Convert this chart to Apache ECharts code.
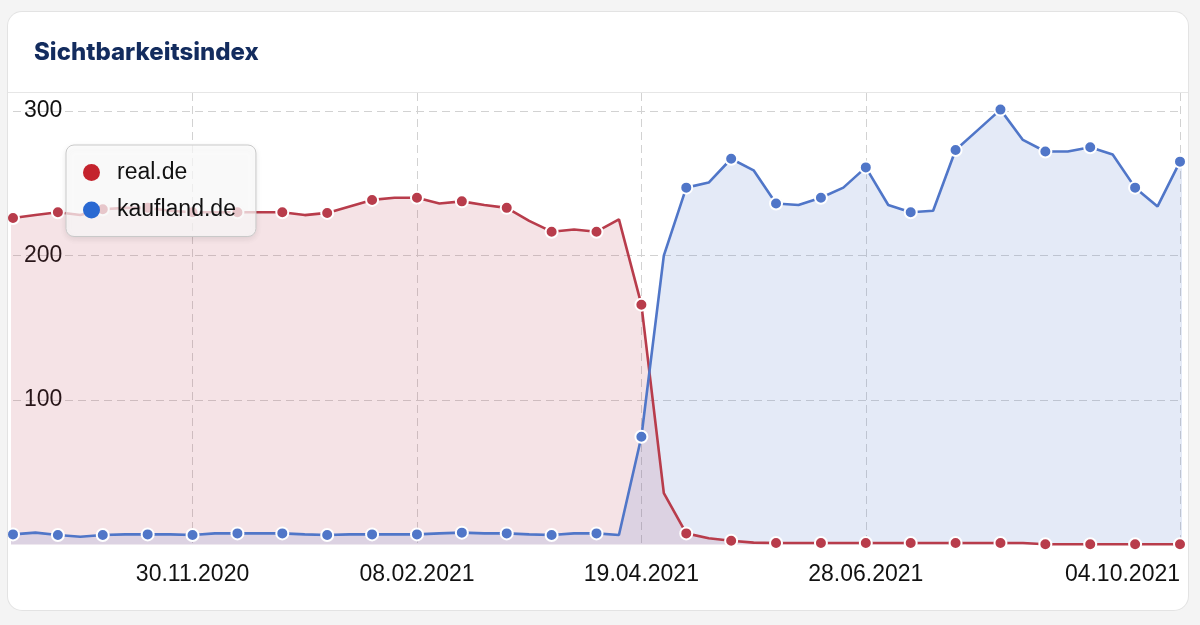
<!DOCTYPE html>
<html><head><meta charset="utf-8">
<script src="https://cdn.jsdelivr.net/npm/echarts@6/dist/echarts.min.js"></script>
<style>
html,body{margin:0;padding:0;background:#f4f4f4;width:1200px;height:625px;overflow:hidden;}
#card{position:absolute;left:8px;top:12px;width:1180px;height:598px;background:#fff;border-radius:14px;overflow:hidden;box-shadow:0 0 0 1px #e3e3e3;}
#sep{position:absolute;left:0;top:80px;width:100%;height:1px;background:#e6e6e6;}
#chart{position:absolute;left:-8px;top:-12px;width:1200px;height:625px;}
</style></head><body>
<div id="card"><div id="sep"></div><div id="chart"></div></div>
<script>
// weekly dates (first and last lie just outside the visible range)
const weeks = [
 '2020-09-28','2020-10-05','2020-10-12','2020-10-19','2020-10-26','2020-11-02','2020-11-09','2020-11-16','2020-11-23','2020-11-30',
 '2020-12-07','2020-12-14','2020-12-21','2020-12-28','2021-01-04','2021-01-11','2021-01-18','2021-01-25','2021-02-01','2021-02-08',
 '2021-02-15','2021-02-22','2021-03-01','2021-03-08','2021-03-15','2021-03-22','2021-03-29','2021-04-05','2021-04-12','2021-04-19',
 '2021-04-26','2021-05-03','2021-05-10','2021-05-17','2021-05-24','2021-05-31','2021-06-07','2021-06-14','2021-06-21','2021-06-28',
 '2021-07-05','2021-07-12','2021-07-19','2021-07-26','2021-08-02','2021-08-09','2021-08-16','2021-08-23','2021-08-30','2021-09-06',
 '2021-09-13','2021-09-20','2021-09-27','2021-10-04','2021-10-11'
];
const realDe = [
 223, 226, 228, 230, 228, 232, 233, 233, 231, 230,
 230, 230, 230, 230, 228, 229.5, 234, 238.5, 240, 240,
 236, 237.5, 235, 233, 224, 216.5, 218, 216.5, 225, 166,
 35.5, 7.7, 4.3, 2.6, 1.3, 1.0, 1.0, 1.0, 1.0, 1.0,
 1.0, 1.0, 1.0, 1.0, 1.0, 1.0, 1.0, 0.2, 0.2, 0.2,
 0.2, 0.2, 0.2, 0.2, 0.2
];
const kauflandDe = [
 7, 7.0, 8.2, 6.6, 5.4, 6.6, 7.0, 7.0, 7.0, 6.6,
 7.7, 7.7, 7.7, 7.7, 7.0, 6.6, 7.0, 7.0, 7.0, 7.0,
 7.7, 8.2, 7.7, 7.7, 7.0, 6.6, 7.7, 7.7, 6.6, 74.6,
 200, 247, 250.5, 267, 259, 236, 235, 240, 247, 261,
 235, 230, 231, 273, 287, 301, 280, 272, 272, 275,
 270, 247, 234, 265, 269
];
const xTickDates = ['2020-11-30','2021-02-08','2021-04-19','2021-06-28','2021-10-04'];
const xMinDate = '2020-10-05', xMaxDate = '2021-10-04';
const yTicks = [100, 200, 300];
const title = 'Sichtbarkeitsindex';
const names = ['real.de', 'kaufland.de'];

const tickIdx = xTickDates.map(d => weeks.indexOf(d));
function fmtDate(s) { const p = s.split('-'); return p[2] + '.' + p[1] + '.' + p[0]; }
function build(values) {
  return values.map((v, i) => ({
    value: [i, v],
    symbol: (i % 2 === 1) ? 'circle' : 'none'
  }));
}
const chart = echarts.init(document.getElementById('chart'), null, {renderer: 'canvas'});
const FONT = '"Liberation Sans", Arial, sans-serif';
chart.setOption({
  animation: false,
  backgroundColor: 'transparent',
  title: {
    text: title, left: 34, top: 41, padding: 0,
    textStyle: {fontFamily: 'Inter', fontWeight: 800, fontSize: 24, color: '#132c5e'}
  },
  legend: {
    orient: 'vertical', left: 66, top: 145,
    padding: [16, 20, 15, 17], itemGap: 14.5,
    icon: 'circle', itemWidth: 17, itemHeight: 17,
    backgroundColor: 'rgba(255,255,255,0.72)',
    borderColor: '#c9c9c9', borderWidth: 1, borderRadius: 8,
    shadowColor: 'rgba(0,0,0,0.12)', shadowBlur: 6, shadowOffsetY: 2,
    textStyle: {fontFamily: FONT, fontSize: 23, color: '#111', padding: [0, 0, 0, 12]},
    data: [
      {name: names[0], itemStyle: {color: '#c4232d', borderWidth: 0}},
      {name: names[1], itemStyle: {color: '#2a69d2', borderWidth: 0}}
    ]
  },
  grid: {left: 13, right: 20, top: 93, bottom: 80.5, containLabel: false},
  xAxis: {
    type: 'value', min: weeks.indexOf(xMinDate), max: weeks.indexOf(xMaxDate),
    axisLine: {show: false},
    axisTick: {show: false, customValues: tickIdx},
    axisLabel: {
      customValues: tickIdx, alignMaxLabel: 'right',
      fontFamily: FONT, fontSize: 23, color: '#111', margin: 19,
      formatter: v => (weeks[v] ? fmtDate(weeks[v]) : '')
    },
    splitLine: {show: true, lineStyle: {color: '#d2d2d2', type: [8, 5], width: 1}}
  },
  yAxis: {
    type: 'value', min: 0, max: 312.5, interval: 100,
    axisLine: {show: false}, axisTick: {show: false},
    axisLabel: {
      inside: true, margin: 11, fontFamily: FONT, fontSize: 23, color: '#111',
      padding: [3, 0, 0, 0],
      showMinLabel: false, showMaxLabel: false,
      formatter: v => (yTicks.indexOf(v) >= 0 ? String(v) : '')
    },
    splitLine: {show: true, showMinLine: false, showMaxLine: false,
      lineStyle: {color: '#d2d2d2', type: [8, 5], width: 1}}
  },
  series: [
    {
      name: names[0], type: 'line', clip: false, data: build(realDe),
      symbolSize: 12, showSymbol: true,
      lineStyle: {color: '#b83c4b', width: 2.6},
      itemStyle: {color: '#b83c4b', borderColor: '#fff', borderWidth: 2},
      areaStyle: {color: 'rgba(184,60,75,0.2)'}
    },
    {
      name: names[1], type: 'line', clip: false, data: build(kauflandDe),
      symbolSize: 12, showSymbol: true,
      lineStyle: {color: '#5076c8', width: 2.6},
      itemStyle: {color: '#5076c8', borderColor: '#fff', borderWidth: 2},
      areaStyle: {color: 'rgba(80,118,200,0.22)'}
    }
  ]
});
</script>
</body></html>
